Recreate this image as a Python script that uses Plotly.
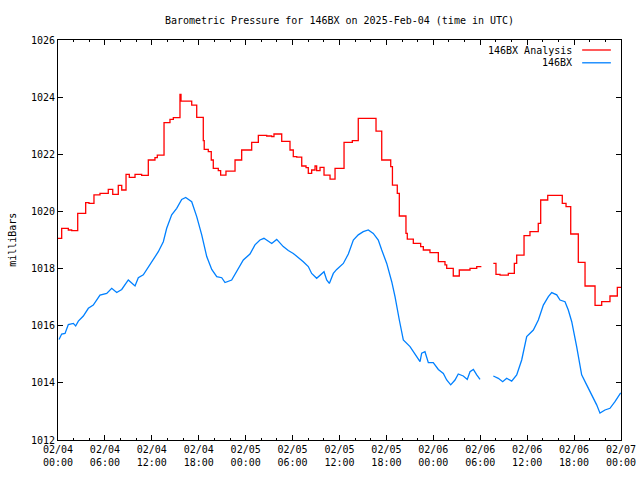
import pandas as pd
import plotly.graph_objects as go

# hours after 2025-02-04 00:00 UTC
analysis_hours = [0.0, 0.47, 1.32, 1.75, 2.52, 3.54, 3.96, 4.6, 5.37, 6.43, 7.0, 7.71, 8.15, 8.7, 9.12,
                  9.85, 10.7, 11.55, 12.4, 12.7, 13.56, 14.32, 14.75, 15.6, 15.73, 17.1, 17.74, 18.58,
                  18.7, 19.22, 19.6, 19.86, 20.5, 20.8, 21.48, 22.64, 23.49, 24.77, 25.62, 26.69, 27.33,
                  27.62, 28.61, 29.67, 30.09, 30.53, 31.17, 31.72, 32.01, 32.44, 32.87, 33.08, 33.51,
                  34.02, 34.79, 35.43, 36.58, 37.64, 38.4, 40.67, 41.4, 42.55, 42.77, 43.39, 43.65,
                  44.5, 44.67, 45.44, 46.38, 46.72, 47.57, 48.64, 49.49, 49.71, 50.55, 51.32, 52.69,
                  53.55, 54.06, 54.9, 55.67, 56.01, 56.53, 57.59, 58.36, 58.66, 59.6, 60.36, 61.42,
                  61.73, 62.63, 64.49, 64.97, 65.57, 66.54, 67.4, 68.68, 69.53, 70.59, 71.53, 72.0]
analysis_mb = [1019.06, 1019.41, 1019.35, 1019.33, 1019.93, 1020.31, 1020.28, 1020.58, 1020.63, 1020.77,
               1020.6, 1020.91, 1020.75, 1021.30, 1021.19, 1021.30, 1021.26, 1021.80, 1021.88, 1021.97,
               1023.11, 1023.22, 1023.28, 1024.10, 1023.86, 1023.72, 1023.29, 1022.48, 1022.17, 1022.09,
               1021.80, 1021.51, 1021.43, 1021.27, 1021.41, 1021.80, 1022.15, 1022.42, 1022.66, 1022.64,
               1022.62, 1022.71, 1022.45, 1022.15, 1021.92, 1021.90, 1021.59, 1021.53, 1021.33, 1021.45,
               1021.59, 1021.43, 1021.54, 1021.27, 1021.13, 1021.51, 1022.42, 1022.48, 1023.26, 1022.81,
               1021.80, 1021.57, 1020.92, 1020.63, 1019.84, 1019.23, 1019.03, 1018.88, 1018.77, 1018.65,
               1018.56, 1018.24, 1018.13, 1018.01, 1017.74, 1017.95, 1018.01, 1018.07, 1018.09, None,
               1018.18, 1017.80, 1017.77, 1017.83, 1018.18, 1018.47, 1019.15, 1019.29, 1019.58, 1020.40,
               1020.56, 1020.28, 1020.17, 1019.21, 1018.22, 1017.39, 1016.71, 1016.84, 1017.04, 1017.34,
               1017.34]

obs_hours = [0.13, 0.47, 0.9, 1.32, 1.96, 2.26, 2.6, 3.24, 3.88, 4.51, 5.37, 6.23, 6.87, 7.51, 8.15, 8.99,
             9.85, 10.27, 10.91, 11.34, 11.98, 12.83, 13.47, 13.9, 14.54, 15.18, 15.82, 16.33, 17.1,
             17.74, 18.38, 19.02, 19.66, 20.3, 20.94, 21.36, 22.21, 22.64, 23.28, 23.7, 24.55, 25.19,
             25.83, 26.34, 27.33, 27.97, 28.81, 29.45, 30.09, 30.73, 31.37, 32.01, 32.44, 33.08, 33.6,
             34.02, 34.36, 34.7, 35.21, 35.64, 36.49, 37.13, 37.77, 38.4, 39.04, 39.68, 40.32, 40.96,
             41.4, 42.04, 42.68, 43.1, 43.65, 44.16, 45.02, 45.78, 46.3, 46.51, 46.93, 47.36, 47.99,
             48.64, 49.28, 49.71, 50.22, 50.77, 51.19, 51.83, 52.34, 52.69, 53.12, 53.55, 53.97, 54.8,
             55.67, 56.31, 56.87, 57.38, 58.02, 58.66, 59.3, 59.94, 60.79, 61.43, 62.07, 62.71, 63.14,
             63.78, 64.2, 64.84, 65.26, 65.7, 66.33, 66.97, 67.61, 68.25, 68.89, 69.31, 69.95, 70.59,
             71.23, 71.96]
obs_mb = [1015.52, 1015.71, 1015.73, 1016.04, 1016.08, 1015.99, 1016.16, 1016.34, 1016.61, 1016.72,
          1017.07, 1017.13, 1017.31, 1017.16, 1017.27, 1017.60, 1017.39, 1017.68, 1017.78, 1017.97,
          1018.24, 1018.59, 1018.94, 1019.41, 1019.88, 1020.11, 1020.42, 1020.49, 1020.34, 1019.82,
          1019.18, 1018.42, 1017.97, 1017.72, 1017.68, 1017.51, 1017.60, 1017.80, 1018.13, 1018.30,
          1018.51, 1018.83, 1019.0, 1019.06, 1018.88, 1019.02, 1018.77, 1018.63, 1018.53, 1018.40,
          1018.24, 1018.07, 1017.83, 1017.66, 1017.78, 1017.89, 1017.60, 1017.48, 1017.83, 1017.97,
          1018.18, 1018.51, 1019.0, 1019.18, 1019.29, 1019.35, 1019.23, 1019.0, 1018.65, 1018.18,
          1017.54, 1017.02, 1016.20, 1015.50, 1015.27, 1014.94, 1014.74, 1015.04, 1015.09, 1014.71,
          1014.71, 1014.47, 1014.33, 1014.10, 1013.93, 1014.10, 1014.31, 1014.24, 1014.12, 1014.39,
          1014.47, 1014.28, 1014.12, None, 1014.24, 1014.16, 1014.04, 1014.16, 1014.06, 1014.28,
          1014.80, 1015.62, 1015.85, 1016.20, 1016.72, 1017.02, 1017.16, 1017.08, 1016.90, 1016.84,
          1016.55, 1016.14, 1015.27, 1014.28, 1013.93, 1013.58, 1013.23, 1012.94, 1013.05, 1013.11,
          1013.34, 1013.65]

x_tick_hours = [0, 6, 12, 18, 24, 30, 36, 42, 48, 54, 60, 66, 72]
x_tick_labels = ["02/04<br>00:00", "02/04<br>06:00", "02/04<br>12:00", "02/04<br>18:00",
                 "02/05<br>00:00", "02/05<br>06:00", "02/05<br>12:00", "02/05<br>18:00",
                 "02/06<br>00:00", "02/06<br>06:00", "02/06<br>12:00", "02/06<br>18:00",
                 "02/07<br>00:00"]
y_ticks = [1012, 1014, 1016, 1018, 1020, 1022, 1024, 1026]
series_names = ["146BX Analysis", "146BX"]
series_colors = ["#ff0000", "#0080ff"]

base = pd.Timestamp("2025-02-04 00:00")
to_t = lambda hs: [base + pd.Timedelta(hours=h) for h in hs]

FONT = "DejaVu Sans Mono"
fig = go.Figure()
fig.add_trace(go.Scatter(x=to_t(analysis_hours), y=analysis_mb, mode="lines", line_shape="hv",
                         line=dict(color=series_colors[0], width=1.3), connectgaps=False,
                         name=series_names[0], showlegend=False))
fig.add_trace(go.Scatter(x=to_t(obs_hours), y=obs_mb, mode="lines",
                         line=dict(color=series_colors[1], width=1.3), connectgaps=False,
                         name=series_names[1], showlegend=False))

# legend drawn gnuplot-style (text then sample line)
for i, (nm, col) in enumerate(zip(series_names, series_colors)):
    yy = 0.975 - i * 0.032
    fig.add_annotation(xref="paper", yref="paper", x=0.917, y=yy, text=nm, showarrow=False,
                       xanchor="right", yanchor="middle", font=dict(family=FONT, size=10, color="black"))
    fig.add_shape(type="line", xref="paper", yref="paper", x0=0.931, x1=0.982, y0=yy, y1=yy,
                  line=dict(color=col, width=1.3))

# y-axis title
fig.add_annotation(xref="paper", yref="paper", x=-0.082, y=0.5, text="milliBars", textangle=-90,
                   showarrow=False, xanchor="center", yanchor="middle",
                   font=dict(family=FONT, size=10, color="black"))

fig.update_layout(
    width=640, height=480,
    margin=dict(l=58, r=19, t=40, b=40, autoexpand=False),
    paper_bgcolor="white", plot_bgcolor="white",
    font=dict(family=FONT, size=10, color="black"),
    title=dict(text="Barometric Pressure for 146BX on 2025-Feb-04 (time in UTC)",
               x=0.5, xref="paper", xanchor="center", y=0.958, yanchor="middle",
               font=dict(family=FONT, size=10)),
    showlegend=False,
)
fig.update_xaxes(range=[base, base + pd.Timedelta(hours=72)],
                 tickvals=to_t(x_tick_hours), ticktext=x_tick_labels,
                 ticks="inside", ticklen=5, tickcolor="black", mirror="ticks",
                 showline=True, linecolor="black", linewidth=1, showgrid=False, zeroline=False,
                 minor=dict(dtick=2 * 3600 * 1000, tick0=base, ticks="inside", ticklen=2,
                            tickcolor="black", showgrid=False),
                 tickfont=dict(family=FONT, size=10))
fig.update_yaxes(range=[1012, 1026], tickvals=y_ticks, ticktext=[str(v) for v in y_ticks],
                 ticks="inside", ticklen=5, tickcolor="black", mirror="ticks",
                 showline=True, linecolor="black", linewidth=1, showgrid=False, zeroline=False,
                 tickfont=dict(family=FONT, size=10))

fig.write_html("out.html")
